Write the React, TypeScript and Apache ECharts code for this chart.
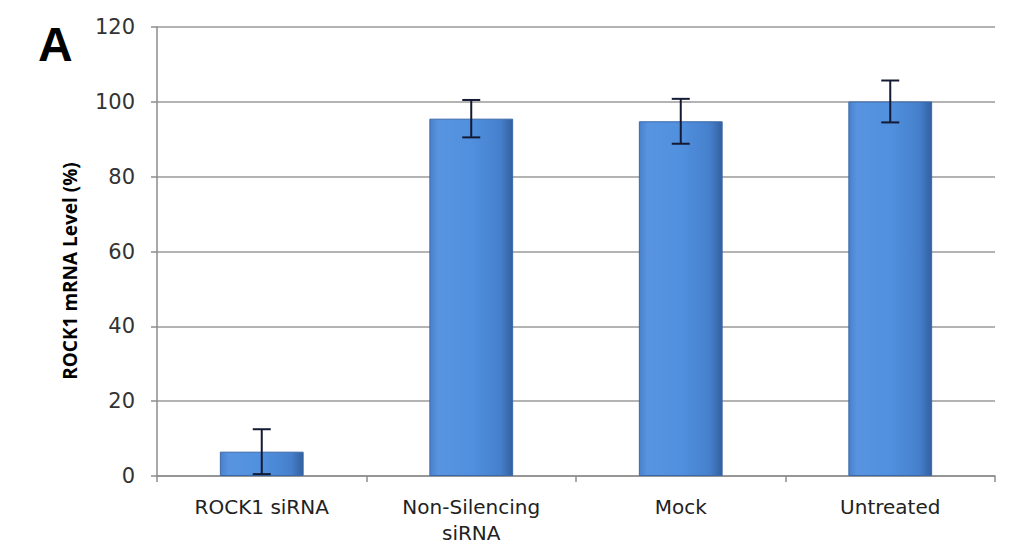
import React, { useEffect, useRef } from "react";
import * as echarts from "echarts";

const categories = ["ROCK1 siRNA", "Non-Silencing\nsiRNA", "Mock", "Untreated"];
const values = [6.5, 95.5, 94.8, 100.1];
const errors = [6.0, 5.0, 6.0, 5.6];
const yTicks = { min: 0, max: 120, interval: 20 };
const yAxisTitle = "ROCK1 mRNA Level (%)";
const panelLetter = "A";

export default function App() {
  const ref = useRef<HTMLDivElement>(null);
  useEffect(() => {
    const chart = echarts.init(ref.current!, undefined, { renderer: "svg" });
    const font = "DejaVu Sans, sans-serif";
    chart.setOption({
      animation: false,
      backgroundColor: "#ffffff",
      graphic: [
        {
          type: "text",
          left: 38,
          top: 20,
          style: { text: panelLetter, font: "bold 48px Liberation Sans, Arial, sans-serif", fill: "#000" },
        },
        {
          type: "text",
          x: 70,
          y: 271,
          rotation: Math.PI / 2,
          style: {
            text: yAxisTitle,
            font: "bold 19px Open Sans, DejaVu Sans, sans-serif",
            fill: "#000",
            align: "center",
            verticalAlign: "middle",
          },
        },
      ],
      grid: { left: 157, right: 25, top: 27, bottom: 74, containLabel: false, outerBoundsMode: "none" },
      xAxis: {
        type: "category",
        data: categories,
        axisLine: { lineStyle: { color: "#8c8c8c", width: 1.5 } },
        axisTick: { show: true, alignWithLabel: false, length: 6, lineStyle: { color: "#8c8c8c", width: 1.5 } },
        axisLabel: { color: "#222", fontSize: 20, fontFamily: font, margin: 18, lineHeight: 26 },
      },
      yAxis: {
        type: "value",
        min: yTicks.min,
        max: yTicks.max,
        interval: yTicks.interval,
        axisLine: { show: true, lineStyle: { color: "#8c8c8c", width: 1.5 } },
        axisTick: { show: true, length: 6, lineStyle: { color: "#8c8c8c", width: 1.5 } },
        axisLabel: { color: "#333", fontSize: 21, fontFamily: font, margin: 22 },
        splitLine: { show: true, lineStyle: { color: "#9a9a9a", width: 1.5 } },
      },
      series: [
        {
          type: "bar",
          data: values,
          barWidth: "40%",
          itemStyle: {
            color: new echarts.graphic.LinearGradient(0, 0, 1, 0, [
              { offset: 0, color: "#4a80cc" },
              { offset: 0.1, color: "#5894e0" },
              { offset: 0.5, color: "#5090de" },
              { offset: 0.85, color: "#4680cc" },
              { offset: 1, color: "#34609f" },
            ]),
            borderColor: "#3a68a8",
            borderWidth: 1,
          },
          z: 2,
        },
        {
          type: "custom",
          z: 5,
          data: values.map((v, i) => [i, v - errors[i], v + errors[i]]),
          renderItem: (params: any, api: any) => {
            const x = api.value(0);
            const lo = api.coord([x, api.value(1)]);
            const hi = api.coord([x, api.value(2)]);
            const hw = 9;
            const style = { stroke: "#141a33", lineWidth: 2 };
            return {
              type: "group",
              children: [
                { type: "line", shape: { x1: lo[0], y1: lo[1], x2: hi[0], y2: hi[1] }, style },
                { type: "line", shape: { x1: lo[0] - hw, y1: lo[1], x2: lo[0] + hw, y2: lo[1] }, style },
                { type: "line", shape: { x1: hi[0] - hw, y1: hi[1], x2: hi[0] + hw, y2: hi[1] }, style },
              ],
            };
          },
        },
      ],
    });
    return () => chart.dispose();
  }, []);
  return (
    <div
      ref={ref}
      style={{ position: "absolute", left: 0, top: 0, width: 1020, height: 550 }}
    />
  );
}
